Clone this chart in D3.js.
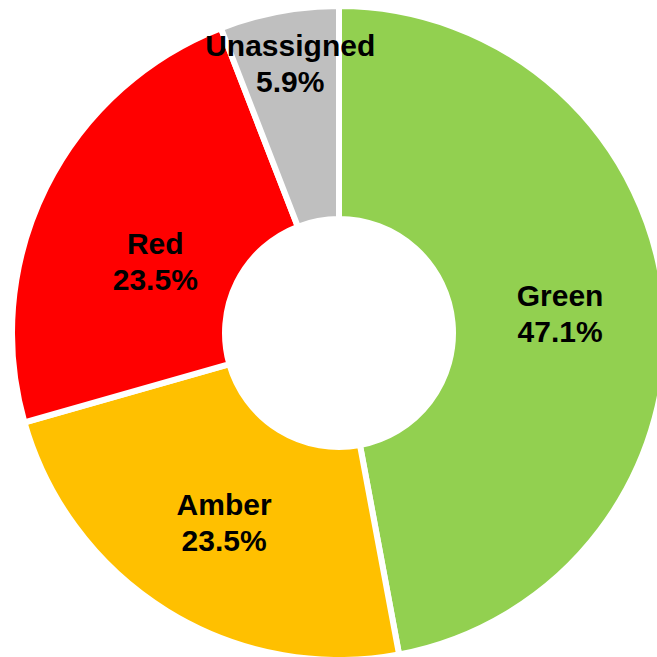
<!DOCTYPE html>
<html>
<head>
<meta charset="utf-8">
<script src="https://cdn.jsdelivr.net/npm/d3@7"></script>
<style>
  html, body { margin: 0; padding: 0; background: #fff; overflow: hidden; }
  svg { display: block; }
</style>
</head>
<body>
<script>
// RAG status breakdown (item counts)
const categories = ["Green", "Amber", "Red", "Unassigned"];
const counts = [8, 4, 4, 1];
const colors = ["#92D050", "#FFC000", "#FF0000", "#BFBFBF"];
// Manual label nudges (px) from the default label centroid
const labelNudge = [[0, 0], [2, 0], [15, 27], [-8, -52]];

const W = 657, H = 657;
const cx = 339, cy = 333;
const outerR = 327, innerR = 114, labelR = 222;

const svg = d3.select("body").append("svg")
  .attr("width", W).attr("height", H);

const g = svg.append("g").attr("transform", `translate(${cx},${cy})`);

const total = d3.sum(counts);
const data = categories.map((c, i) => ({ name: c, value: counts[i], color: colors[i], nudge: labelNudge[i] }));

const pie = d3.pie().sort(null).value(d => d.value).startAngle(0).endAngle(2 * Math.PI);
const arcs = pie(data);

const arc = d3.arc().innerRadius(innerR).outerRadius(outerR);
const labelArc = d3.arc().innerRadius(labelR).outerRadius(labelR);

g.selectAll("path.slice")
  .data(arcs)
  .join("path")
  .attr("class", "slice")
  .attr("d", arc)
  .attr("fill", d => d.data.color)
  .attr("stroke", "#fff")
  .attr("stroke-width", 6)
  .attr("stroke-linejoin", "miter");

const fmt = d3.format(".1%");

const labels = g.selectAll("text.lbl")
  .data(arcs)
  .join("text")
  .attr("class", "lbl")
  .attr("transform", d => {
    const [x, y] = labelArc.centroid(d);
    return `translate(${x + d.data.nudge[0]},${y + d.data.nudge[1]})`;
  })
  .attr("text-anchor", "middle")
  .attr("font-family", "Arial, 'Liberation Sans', sans-serif")
  .attr("font-weight", "bold")
  .attr("font-size", 30)
  .attr("fill", "#000");

labels.append("tspan")
  .attr("x", 0).attr("y", -7)
  .text(d => d.data.name);

labels.append("tspan")
  .attr("x", 0).attr("y", 29)
  .text(d => fmt(d.data.value / total));
</script>
</body>
</html>
